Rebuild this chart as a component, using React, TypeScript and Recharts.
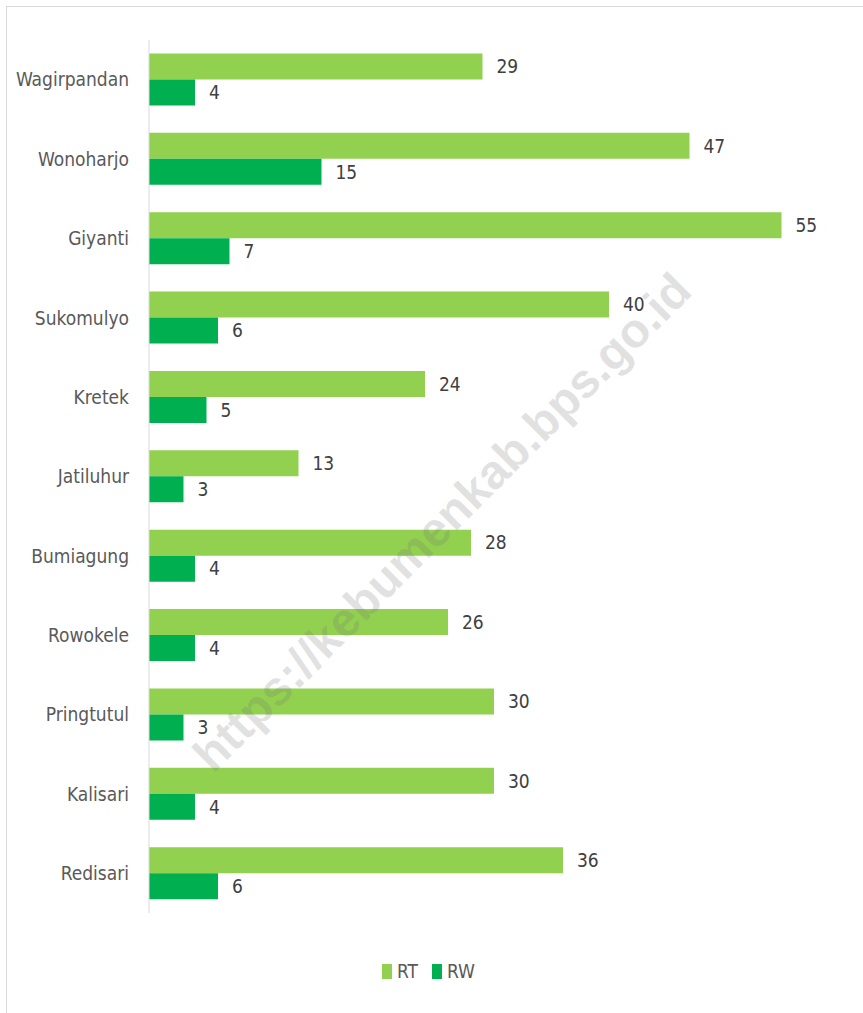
import React from 'react';
import { BarChart, Bar, XAxis, YAxis, LabelList, Legend } from 'recharts';

// Villages (top to bottom) and counts
const villages = ['Wagirpandan', 'Wonoharjo', 'Giyanti', 'Sukomulyo', 'Kretek', 'Jatiluhur', 'Bumiagung', 'Rowokele', 'Pringtutul', 'Kalisari', 'Redisari'];
const rtCounts = [29, 47, 55, 40, 24, 13, 28, 26, 30, 30, 36];
const rwCounts = [4, 15, 7, 6, 5, 3, 4, 4, 3, 4, 6];

const RT_COLOR = '#92d050';
const RW_COLOR = '#00b050';
const FONT = "'Liberation Sans Narrow', 'DejaVu Sans Condensed', 'Open Sans', sans-serif";

const data = villages.map((name, i) => ({ name, RT: rtCounts[i], RW: rwCounts[i] }));

const LegendBox = () => (
  <div style={{ display: 'flex', justifyContent: 'center', gap: 14, fontFamily: FONT, fontSize: 19, color: '#595959', height: 24, alignItems: 'center', paddingLeft: 18 }}>
    {[{ k: 'RT', c: RT_COLOR }, { k: 'RW', c: RW_COLOR }].map(item => (
      <span key={item.k} style={{ display: 'inline-flex', alignItems: 'center' }}>
        <span style={{ width: 10, height: 15, background: item.c, display: 'inline-block', marginRight: 5 }} />
        {item.k}
      </span>
    ))}
  </div>
);

const App = () => {
  return (
    <div style={{ position: 'absolute', left: 0, top: 0, width: 863, height: 1013, background: '#fff', overflow: 'hidden' }}>
      {/* outer chart frame, only top/left edges visible in the crop */}
      <div style={{ position: 'absolute', left: 6, top: 6, width: 900, height: 1100, borderTop: '1px solid #d9d9d9', borderLeft: '1px solid #d9d9d9' }} />
      <BarChart
        width={863}
        height={1013}
        data={data}
        layout="vertical"
        margin={{ top: 40, right: 24, left: 0, bottom: 76 }}
        barCategoryGap="17%"
        barGap={0}
      >
        <XAxis type="number" domain={[0, 60]} hide />
        <YAxis
          type="category"
          dataKey="name"
          width={149}
          axisLine={{ stroke: '#d9d9d9' }}
          tickLine={false}
          tickMargin={14}
          tick={{ fill: '#595959', fontSize: 19, fontFamily: FONT }}
        />
        <Legend verticalAlign="bottom" height={24} content={() => <LegendBox />} wrapperStyle={{ bottom: 30 }} />
        <Bar dataKey="RT" fill={RT_COLOR} isAnimationActive={false}>
          <LabelList dataKey="RT" position="right" offset={14} fill="#404040" fontSize={19} fontFamily={FONT} />
        </Bar>
        <Bar dataKey="RW" fill={RW_COLOR} isAnimationActive={false}>
          <LabelList dataKey="RW" position="right" offset={14} fill="#404040" fontSize={19} fontFamily={FONT} />
        </Bar>
      </BarChart>
      {/* watermark */}
      <div
        style={{
          position: 'absolute',
          left: 442,
          top: 522,
          transform: 'translate(-50%, -50%) rotate(-45deg)',
          whiteSpace: 'nowrap',
          fontFamily: "'Liberation Sans', Arial, sans-serif",
          fontWeight: 'bold',
          fontSize: 48,
          color: 'rgba(120,120,120,0.22)',
          pointerEvents: 'none',
        }}
      >
        https://kebumenkab.bps.go.id
      </div>
    </div>
  );
};

export default App;
